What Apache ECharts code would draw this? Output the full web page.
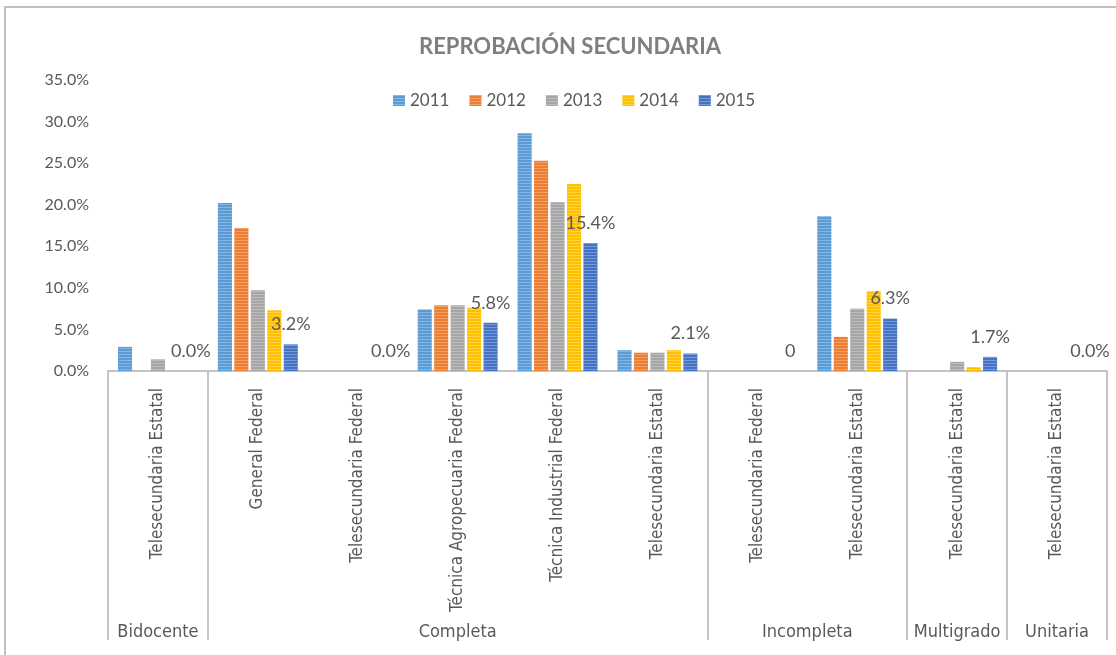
<!DOCTYPE html>
<html>
<head>
<meta charset="utf-8">
<script src="https://cdn.jsdelivr.net/npm/echarts@6/dist/echarts.min.js"></script>
<style>
  html, body { margin: 0; padding: 0; background: #fff; }
  #main { width: 1116px; height: 655px; }
</style>
</head>
<body>
<div id="main"></div>
<script>
// categorias (nivel 1) y grupos (nivel 2)
var categories = [
  'Telesecundaria Estatal',
  'General Federal',
  'Telesecundaria Federal',
  'Técnica Agropecuaria Federal',
  'Técnica Industrial Federal',
  'Telesecundaria Estatal',
  'Telesecundaria Federal',
  'Telesecundaria Estatal',
  'Telesecundaria Estatal',
  'Telesecundaria Estatal'
];
var groupNames = ['Bidocente', 'Completa', 'Incompleta', 'Multigrado', 'Unitaria'];
var groupSizes = [1, 5, 2, 1, 1];

var years = ['2011', '2012', '2013', '2014', '2015'];
var colors = ['#5b9bd5', '#ed7d31', '#a5a5a5', '#ffc000', '#4472c4'];

// porcentaje de reprobacion
var data2011 = [2.9, 20.2, 0, 7.4, 28.6, 2.5, 0, 18.6, 0, 0];
var data2012 = [0, 17.2, 0, 7.9, 25.3, 2.2, 0, 4.1, 0, 0];
var data2013 = [1.4, 9.7, 0, 7.9, 20.3, 2.2, 0, 7.5, 1.1, 0];
var data2014 = [0, 7.3, 0, 7.6, 22.5, 2.5, 0, 9.6, 0.45, 0];
var data2015 = [0, 3.2, 0, 5.8, 15.4, 2.1, 0, 6.3, 1.7, 0];
var labels2015 = ['0.0%', '3.2%', '0.0%', '5.8%', '15.4%', '2.1%', '0', '6.3%', '1.7%', '0.0%'];

var yTicks = [0, 5, 10, 15, 20, 25, 30, 35];

// inicio de cada grupo (indice de categoria) y su centro
var groupStarts = [];
var groupCenters = {};
var acc = 0;
for (var g = 0; g < groupSizes.length; g++) {
  groupStarts.push(acc);
  groupCenters[(acc + groupSizes[g] / 2).toFixed(1)] = groupNames[g];
  acc += groupSizes[g];
}

var txt = '#595959';
var lineColor = '#c4c4c4';
var narrow = '"Liberation Sans Narrow", "DejaVu Sans Condensed", sans-serif';
var baseFont = 'Lato, "Noto Sans", sans-serif';

var allData = [data2011, data2012, data2013, data2014, data2015];
var series = [];
for (var i = 0; i < years.length; i++) {
  var s = {
    name: years[i],
    type: 'bar',
    data: allData[i],
    barCategoryGap: '20%',
    barGap: '17%',
    itemStyle: {
      color: colors[i],
      decal: {
        symbol: 'rect',
        symbolSize: 1,
        dashArrayX: [1, 0],
        dashArrayY: [1, 2],
        color: 'rgba(255,255,255,0.28)'
      }
    }
  };
  if (i === 4) {
    s.label = {
      show: true,
      position: 'top',
      distance: 11,
      color: txt,
      fontFamily: baseFont,
      fontSize: 18,
      formatter: function (p) { return labels2015[p.dataIndex]; }
    };
  }
  series.push(s);
}

var chart = echarts.init(document.getElementById('main'));
chart.setOption({
  animation: false,
  color: colors,
  title: {
    text: 'REPROBACIÓN SECUNDARIA',
    left: 565,
    textAlign: 'center',
    top: 31,
    textStyle: { color: '#7f7f7f', fontSize: 22, fontWeight: 'bold', fontFamily: baseFont }
  },
  legend: {
    data: years,
    top: 87,
    left: 388,
    icon: 'rect',
    itemWidth: 12,
    itemHeight: 11,
    itemGap: 20,
    textStyle: { color: txt, fontSize: 17, fontFamily: baseFont }
  },
  graphic: [{
    type: 'rect',
    shape: { x: 5, y: 7, width: 1200, height: 700 },
    style: { fill: 'none', stroke: '#bfbfbf', lineWidth: 2 },
    silent: true
  }],
  grid: { left: 108, right: 9, top: 80, bottom: 284 },
  xAxis: [{
    type: 'category',
    data: categories,
    axisLine: { lineStyle: { color: lineColor, width: 2 } },
    axisTick: {
      show: true,
      length: 269,
      lineStyle: { color: lineColor, width: 2 },
      interval: function (idx) { return groupStarts.indexOf(idx) >= 0; }
    },
    axisLabel: {
      interval: 0,
      rotate: 90,
      margin: 17,
      color: txt,
      fontSize: 17,
      fontFamily: narrow
    }
  }, {
    type: 'value',
    position: 'bottom',
    min: 0,
    max: categories.length,
    interval: 0.5,
    axisLine: { show: false },
    axisTick: { show: false },
    splitLine: { show: false },
    axisLabel: {
      margin: 252,
      color: txt,
      fontSize: 18,
      fontFamily: narrow,
      showMinLabel: true,
      showMaxLabel: true,
      formatter: function (v) { return groupCenters[v.toFixed(1)] || ''; }
    }
  }],
  yAxis: {
    type: 'value',
    min: yTicks[0],
    max: yTicks[yTicks.length - 1],
    interval: 5,
    axisLine: { show: false },
    axisTick: { show: false },
    splitLine: { show: false },
    axisLabel: {
      margin: 19,
      color: txt,
      fontSize: 16,
      fontFamily: baseFont,
      formatter: function (v) { return v.toFixed(1) + '%'; }
    }
  },
  series: series
});
</script>
</body>
</html>
